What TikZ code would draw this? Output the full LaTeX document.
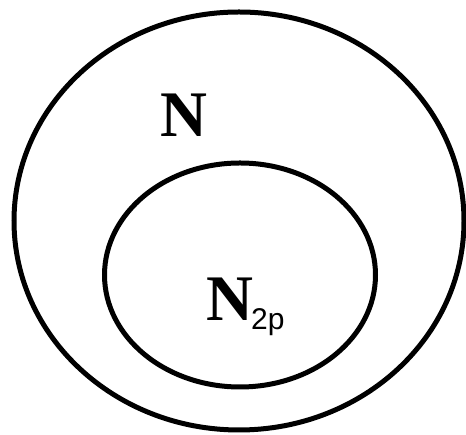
\documentclass[tikz,border=0pt]{standalone}
\usepackage{fontspec}
\setmainfont{Liberation Serif}
\newfontfamily\labsans{Liberation Sans}
\begin{document}
\begin{tikzpicture}[x=1pt,y=1pt,
  setline/.style={line width=5pt},
  biglabel/.style={inner sep=0pt, anchor=base west, font=\fontsize{65}{65}\selectfont\bfseries},
  sublabel/.style={inner sep=0pt, anchor=base west, font=\labsans\fontsize{30}{30}\selectfont}]
\useasboundingbox (0,0) rectangle (466,435);
\draw[setline] (239,214) ellipse [x radius=225, y radius=209];
\draw[setline] (240,160) ellipse [x radius=135.5, y radius=112];
\node[biglabel] (nlab) at (160,298) {N};
\node[biglabel] (n2p) at (206,114) {N};
\node[sublabel] (sub) at (251,105) {2p};
\end{tikzpicture}
\end{document}
